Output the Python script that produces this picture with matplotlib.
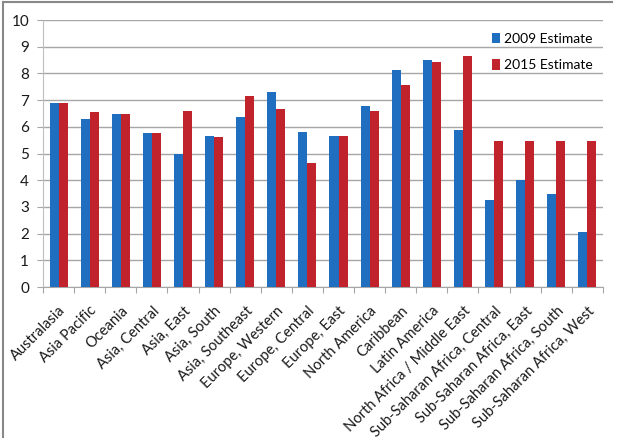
import matplotlib
matplotlib.use('Agg')
import matplotlib.pyplot as plt
import numpy as np

plt.rcParams['font.family'] = ['Lato', 'DejaVu Sans']

AZUL = '#1F6EBF'
VERM = '#C0232C'
GRADE = '#A6A6A6'

regioes = ['Australasia', 'Asia Pacific', 'Oceania', 'Asia, Central', 'Asia, East',
           'Asia, South', 'Asia, Southeast', 'Europe, Western', 'Europe, Central',
           'Europe, East', 'North America', 'Caribbean', 'Latin America',
           'North Africa / Middle East', 'Sub-Saharan Africa, Central',
           'Sub-Saharan Africa, East', 'Sub-Saharan Africa, South',
           'Sub-Saharan Africa, West']
est_2009 = [6.91, 6.31, 6.47, 5.76, 4.98, 5.66, 6.37, 7.29, 5.79,
            5.67, 6.78, 8.13, 8.50, 5.87, 3.27, 4.00, 3.49, 2.06]
est_2015 = [6.91, 6.55, 6.47, 5.76, 6.61, 5.62, 7.16, 6.68, 4.66,
            5.67, 6.61, 7.57, 8.43, 8.67, 5.47, 5.47, 5.47, 5.47]

fig = plt.figure(figsize=(6.28, 4.40), dpi=100, facecolor='white')
ax = fig.add_axes([0.0685, 0.3477, 0.8915, 0.6068])

x = np.arange(len(regioes))
w = 0.29
ax.bar(x - w / 2, est_2009, w, color=AZUL, label='2009 Estimate', zorder=3)
ax.bar(x + w / 2, est_2015, w, color=VERM, label='2015 Estimate', zorder=3)

ax.set_xlim(-0.5, len(regioes) - 0.5)
ax.set_ylim(0, 10)
ax.set_yticks(range(0, 11))
ax.yaxis.grid(True, color=GRADE, linewidth=1.0, zorder=0)
ax.set_axisbelow(True)

for s in ['top', 'right']:
    ax.spines[s].set_visible(False)
ax.spines['left'].set_color('#BFBFBF')
ax.spines['bottom'].set_color(GRADE)

# ticks nas fronteiras das categorias, rótulos no centro
ax.set_xticks(np.arange(-0.5, len(regioes), 1.0))
ax.set_xticklabels([])
ax.set_xticks(x, minor=True)
ax.set_xticklabels(regioes, minor=True, rotation=45, ha='right',
                   rotation_mode='anchor', fontsize=10.5, color='#1a1a1a')
ax.tick_params(axis='x', which='major', length=4, color=GRADE)
ax.tick_params(axis='x', which='minor', length=0, pad=12)
ax.tick_params(axis='y', length=4, color=GRADE, labelsize=11,
               labelcolor='#1a1a1a', pad=6)

ax.legend(loc='upper right', bbox_to_anchor=(1.005, 1.0), frameon=False,
          fontsize=10, handlelength=0.6, handleheight=0.8, handletextpad=0.3,
          labelspacing=1.05)

# moldura cinza (esquerda e topo)
fig.add_artist(plt.Line2D([0.004, 0.004], [0.006, 0.996], color='#888',
                          linewidth=1.5, transform=fig.transFigure))
fig.add_artist(plt.Line2D([0.004, 0.975], [0.996, 0.996], color='#888',
                          linewidth=1.5, transform=fig.transFigure))

plt.savefig('out.png', dpi=100, facecolor='white')
plt.close()
print('out.png')
